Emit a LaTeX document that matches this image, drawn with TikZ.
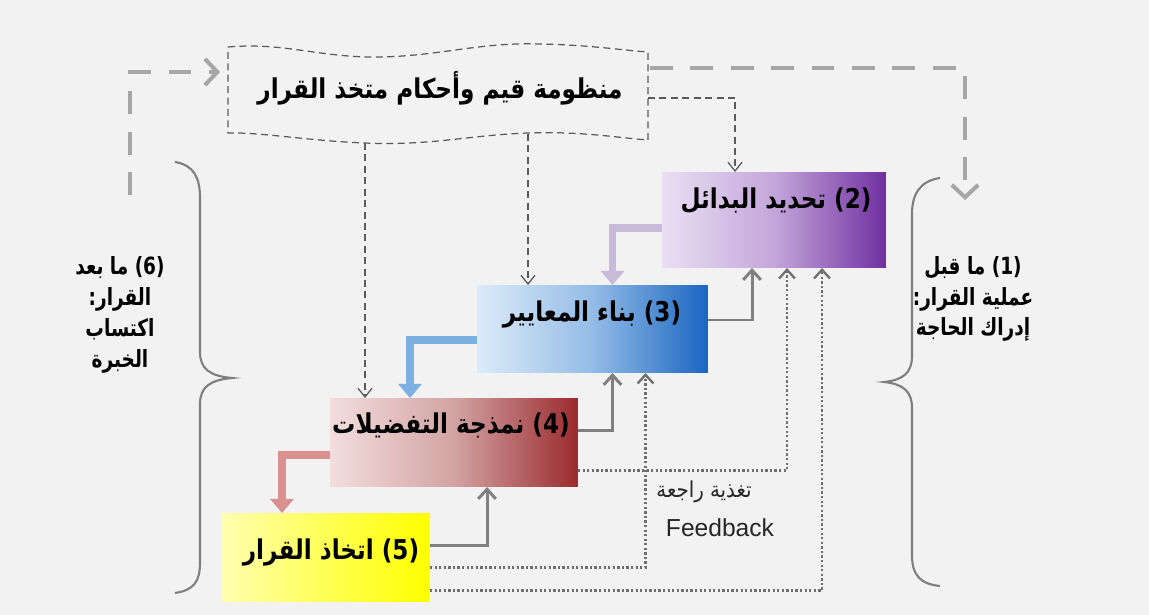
\documentclass[tikz,border=0pt]{standalone}
\usepackage{fontspec}
\setmainfont{Liberation Sans}
\newfontfamily\arabicfont[Script=Arabic, FakeStretch=0.85]{DejaVu Sans}
\newfontfamily\arabicside[Script=Arabic, FakeStretch=0.78]{DejaVu Sans}
\newfontfamily\arabicnote[Script=Arabic, FakeStretch=0.9]{DejaVu Sans}
\TeXXeTstate=1
\usetikzlibrary{arrows.meta,calc}

\definecolor{bgcol}{HTML}{F2F2F2}
\definecolor{bigdash}{HTML}{A6A6A6}
\definecolor{thindash}{HTML}{5A5A5A}
\definecolor{fbgray}{HTML}{808080}
\definecolor{dotgray}{HTML}{6E6E6E}
\definecolor{bracegray}{HTML}{7F7F7F}
\definecolor{lavarrow}{HTML}{C8BAD9}
\definecolor{bluearrow}{HTML}{7CB0E2}
\definecolor{pinkarrow}{HTML}{D9908E}
% stage fills (light -> dark)
\definecolor{pA}{HTML}{EADFF3}\definecolor{pB}{HTML}{C3A6DA}\definecolor{pC}{HTML}{7030A0}
\definecolor{bA}{HTML}{DDEBF8}\definecolor{bB}{HTML}{93BCE6}\definecolor{bC}{HTML}{1A66C2}
\definecolor{rA}{HTML}{F3DEDD}\definecolor{rB}{HTML}{D2A3A3}\definecolor{rC}{HTML}{9B2A2E}
\definecolor{yA}{HTML}{FFFFB0}\definecolor{yB}{HTML}{FFFF55}\definecolor{yC}{HTML}{FFFF00}

\tikzset{
  stage/.style={inner sep=0pt, outer sep=0pt, draw=none},
  stagetext/.style={font=\arabicfont\bfseries\fontsize{15.5}{18}\selectfont, inner sep=0pt},
  sidetext/.style={font=\arabicside\bfseries\fontsize{13.5}{17.5}\selectfont, align=center, inner sep=0pt},
  bigdashed/.style={draw=bigdash, line width=2.3pt, dash pattern=on 13pt off 10pt,
    arrows={-Straight Barb[length=7pt,width=15pt]}},
  thindashed/.style={draw=thindash, line width=0.7pt, dash pattern=on 4pt off 2.5pt,
    arrows={-Straight Barb[length=5pt,width=8pt]}},
  flowarrow/.style={line width=4.5pt, arrows={-Triangle[length=8pt,width=13pt]}},
  backarrow/.style={draw=fbgray, line width=1.7pt, arrows={-Straight Barb[length=5.5pt,width=10pt]}},
  dotback/.style={draw=dotgray, line width=1.3pt, dash pattern=on 1.3pt off 1.3pt,
    arrows={-Straight Barb[length=5pt,width=9pt]}},
  bracepath/.style={draw=bracegray, line width=1.2pt},
}

\begin{document}
\begin{tikzpicture}[x=0.02cm, y=-0.02cm]
\fill[bgcol] (0,0) rectangle (1149,615);
\useasboundingbox (0,0) rectangle (1149,615);

% value system box with wavy top and bottom edges
\draw[thindash, line width=0.7pt, dash pattern=on 4pt off 2.5pt]
  (228,47) .. controls (285,42) and (320,58) .. (380,57)
  .. controls (440,56) and (480,42) .. (540,44)
  .. controls (590,45) and (620,50) .. (648,52)
  -- (648,140)
  .. controls (620,138) and (580,131) .. (528,133)
  .. controls (470,135) and (430,146) .. (365,143)
  .. controls (310,141) and (260,132) .. (228,133) -- cycle;
\node[font=\arabicfont\bfseries\fontsize{15.5}{18}\selectfont, inner sep=0pt] (vs) at (440,88)
  {\beginR منظومة قيم وأحكام متخذ القرار\endR};

% stages
\node[stage, minimum width=4.48cm, minimum height=1.92cm,
  left color=pA, right color=pC, middle color=pB] (b2) at (774,220) {};
\node[stage, minimum width=4.62cm, minimum height=1.76cm,
  left color=bA, right color=bC, middle color=bB] (b3) at (592.5,329) {};
\node[stage, minimum width=4.96cm, minimum height=1.78cm,
  left color=rA, right color=rC, middle color=rB] (b4) at (454,442.5) {};
\node[stage, minimum width=4.16cm, minimum height=1.78cm,
  left color=yA, right color=yC, middle color=yB] (b5) at (326,557.5) {};

\node[stagetext] (l2) at (776,201) {\beginR تحديد البدائل\endR\ (2)};
\node[stagetext] (l3) at (592,314) {\beginR بناء المعايير\endR\ (3)};
\node[stagetext] (l4) at (451,426) {\beginR نمذجة التفضيلات\endR\ (4)};
\node[stagetext] (l5) at (331,552) {\beginR اتخاذ القرار\endR\ (5)};

% side phases
\node[sidetext] (l6) at (120,315) {\beginR ما بعد\endR\ (6)\\:\beginR القرار\endR\\\beginR اكتساب\endR\\\beginR الخبرة\endR};
\node[sidetext] (l1) at (973,299) {\beginR ما قبل\endR\ (1)\\:\beginR عملية القرار\endR\\\beginR إدراك الحاجة\endR};

% braces
\draw[bracepath] (175,162) .. controls (194,165) and (200,178) .. (200,198) -- (200,352)
  .. controls (200,369) and (210,376) .. (232,378)
  .. controls (210,380) and (200,387) .. (200,404) -- (200,562)
  .. controls (200,582) and (194,590) .. (175,593);
\draw[bracepath] (940,178) .. controls (920,181) and (912,194) .. (912,214) -- (912,356)
  .. controls (912,373) and (903,380) .. (884,382)
  .. controls (903,384) and (912,391) .. (912,408) -- (912,555)
  .. controls (912,575) and (920,584) .. (940,586);

% outer loop (big dashed)
\coordinate (vsR) at (650,68);
\coordinate (p1) at (965,200);
\coordinate (p6) at (130,195);
\coordinate (vsL) at (220,72);
\draw[bigdashed] (vsR) -| (p1);
\draw[bigdashed] (p6) |- (vsL);

% influence of the value system on the stages
\coordinate (vsE) at (648,98);
\coordinate (vsS1) at (528,134);
\coordinate (vsS2) at (365,143);
\draw[thindashed] (vsE) -| ($(b2.north)+(-39,0)$);
\draw[thindashed] (vsS1) -- (vsS1 |- b3.north);
\draw[thindashed] (vsS2) -- (vsS2 |- b4.north);

% forward flow
\draw[lavarrow, flowarrow] ($(b2.west)+(0,8)$) -| ($(b3.north)+(20,0)$);
\draw[bluearrow, flowarrow] ($(b3.west)+(0,11)$) -| ($(b4.north)+(-44,0)$);
\draw[pinkarrow, flowarrow] ($(b4.west)+(0,12.5)$) -| ($(b5.north)+(-44,0)$);

% step back
\draw[backarrow] ($(b5.east)+(0,-12)$) -| ($(b4.south)+(33,0)$);
\draw[backarrow] ($(b4.east)+(0,-12)$) -| ($(b3.south)+(20,0)$);
\draw[backarrow] ($(b3.east)+(0,-9)$) -| ($(b2.south)+(-22,0)$);

% feedback (dotted)
\draw[dotback] ($(b4.east)+(0,28)$) -| ($(b2.south)+(13,0)$);
\draw[dotback] ($(b5.east)+(0,10)$) -| ($(b3.south)+(53,0)$);
\draw[dotback] ($(b5.east)+(0,33)$) -| ($(b2.south)+(48,0)$);

\node[font=\arabicnote\fontsize{12.5}{15}\selectfont, text=black!85, inner sep=0pt] (fa) at (704,492) {\beginR تغذية راجعة\endR};
\node[font=\fontsize{14}{16}\selectfont, text=black!85, inner sep=0pt] (fe) at (720,528) {Feedback};
\end{tikzpicture}
\end{document}
